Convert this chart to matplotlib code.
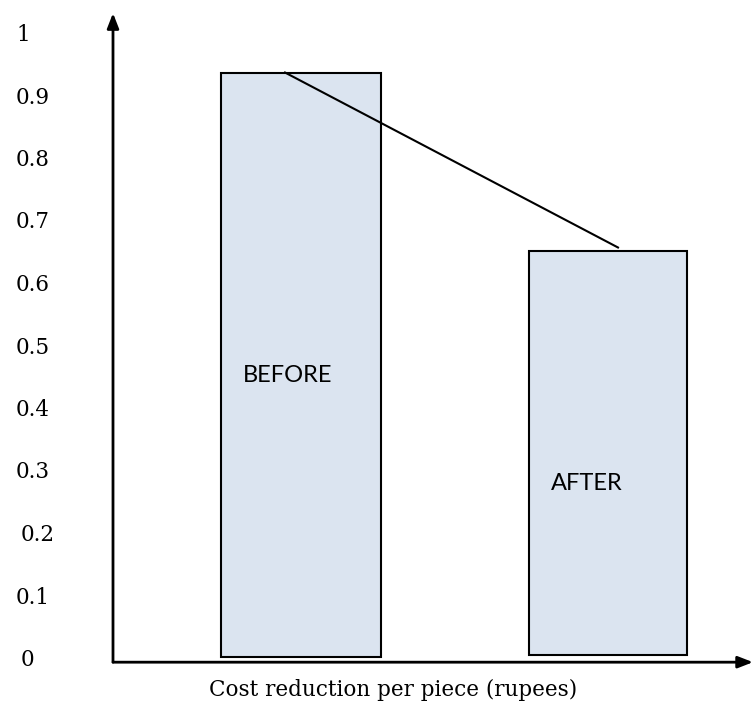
import matplotlib
matplotlib.use("Agg")
import matplotlib.pyplot as plt

# values
labels = ["BEFORE", "AFTER"]
values = [0.94, 0.655]
trend = [0.94, 0.66]
ticks = [0, 0.1, 0.2, 0.3, 0.4, 0.5, 0.6, 0.7, 0.8, 0.9, 1]
tick_text = ["0", "0.1", "0.2", "0.3", "0.4", "0.5", "0.6", "0.7", "0.8", "0.9", "1"]
xlabel = "Cost reduction per piece (rupees)"

fig = plt.figure(figsize=(7.53, 7.06), dpi=100)
ax = fig.add_axes([0, 0, 1, 1])
ax.set_xlim(-1.13, 6.40)
ax.set_ylim(-46 / 625, 660 / 625)
ax.axis("off")

pos = [1.88, 4.95]
widths = [1.60, 1.58]
bottoms = [0.005, 0.008]
heights = [v - b for v, b in zip(values, bottoms)]
ax.bar(pos, heights, width=widths, bottom=bottoms, color="#dbe4f0",
       edgecolor="black", linewidth=1.5, zorder=2)

# connecting line
ax.plot([pos[0] - 0.16, pos[1] + 0.10], trend, color="black", lw=1.5, zorder=3)

# bar labels
ax.text(pos[0] - 0.58, 0.456, labels[0], family="Lato", fontsize=17, va="center", ha="left", zorder=4)
ax.text(pos[1] - 0.57, 0.282, labels[1], family="Lato", fontsize=17, va="center", ha="left", zorder=4)

# axes drawn as arrows
ax.annotate("", xy=(0, 1.035), xytext=(0, -0.0035),
            arrowprops=dict(arrowstyle="-|>,head_length=0.9,head_width=0.35", color="black", lw=2, shrinkA=0, shrinkB=0))
ax.annotate("", xy=(6.40, -0.0035), xytext=(0, -0.0035),
            arrowprops=dict(arrowstyle="-|>,head_length=0.9,head_width=0.35", color="black", lw=2, shrinkA=0, shrinkB=0))

for t, s in zip(ticks, tick_text):
    xoff = -0.92 if s in ("0", "0.2") else -0.97
    ax.text(xoff, t, s, family="DejaVu Serif", fontsize=15.5, va="center", ha="left")

ax.text(2.80, -0.048, xlabel, family="DejaVu Serif", fontsize=15.5, va="center", ha="center")

fig.savefig("out.png", dpi=100)
